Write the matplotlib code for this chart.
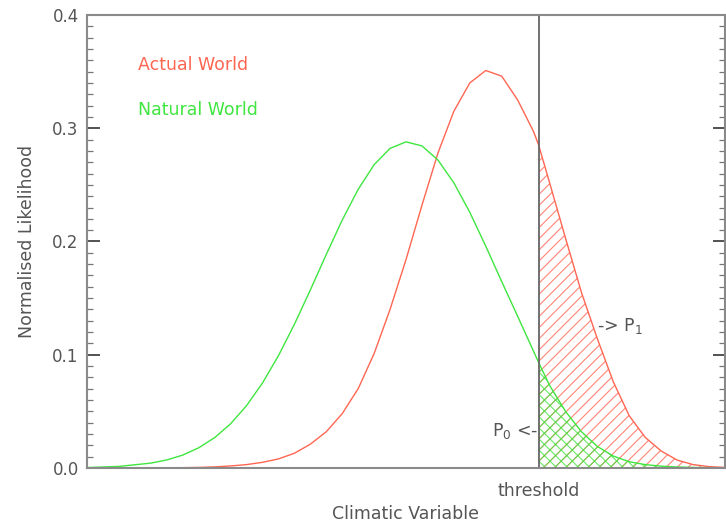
import numpy as np
import matplotlib
matplotlib.use("Agg")
import matplotlib.pyplot as plt
from matplotlib.ticker import MultipleLocator

# values (x is in arbitrary climatic units 0..10)
x = [0.0, 0.5, 1.0, 1.25, 1.5, 1.75, 2.0, 2.25, 2.5, 2.75, 3.0, 3.25, 3.5, 3.75,
     4.0, 4.25, 4.5, 4.75, 5.0, 5.25, 5.5, 5.75, 6.0, 6.25, 6.5, 6.75, 7.0, 7.08,
     7.25, 7.5, 7.75, 8.0, 8.25, 8.5, 8.75, 9.0, 9.25, 9.5, 9.75, 10.0]
natural = [0.0004, 0.0014, 0.0043, 0.0071, 0.0114, 0.0178, 0.0268, 0.0390, 0.0550,
           0.0750, 0.0991, 0.1268, 0.1571, 0.1885, 0.2189, 0.2460, 0.2678, 0.2822,
           0.2880, 0.2844, 0.2720, 0.2518, 0.2258, 0.1959, 0.1646, 0.1340, 0.1030,
           0.0930, 0.0730, 0.0500, 0.0320, 0.0190, 0.0105, 0.0055, 0.0030, 0.0016,
           0.0009, 0.0005, 0.0003, 0.0002]
actual = [0.0, 0.0, 0.0001, 0.0002, 0.0003, 0.0005, 0.0010, 0.0018, 0.0030, 0.0050,
          0.0080, 0.0130, 0.0210, 0.0320, 0.0480, 0.0700, 0.1010, 0.1400, 0.1840,
          0.2320, 0.2780, 0.3150, 0.3400, 0.3510, 0.3460, 0.3250, 0.2970, 0.2850,
          0.2520, 0.2030, 0.1550, 0.1140, 0.0760, 0.0460, 0.0270, 0.0150, 0.0070,
          0.0030, 0.0012, 0.0005]
threshold = 7.08

RED = "#ff6652"
GREEN = "#3fe63f"
GREY = "#555555"

xs = np.array(x)
nat = np.array(natural)
act = np.array(actual)
right = xs >= threshold

plt.rcParams["hatch.linewidth"] = 0.8

fig = plt.figure(figsize=(7.26, 5.27), dpi=100)
ax = fig.add_axes([87 / 726, 1 - 468 / 527, 638 / 726, 453 / 527])

ax.fill_between(xs[right], 0, act[right], facecolor="none", edgecolor=RED,
                hatch="///", linewidth=0, alpha=0.8)
ax.fill_between(xs[right], 0, nat[right], facecolor="none", edgecolor=GREEN,
                hatch="xxx", linewidth=0, alpha=0.8)
ax.plot(xs, act, color=RED, lw=1.0)
ax.plot(xs, nat, color=GREEN, lw=1.0)
ax.axvline(threshold, color="#666666", lw=1.3)

ax.set_xlim(0, 10)
ax.set_ylim(0, 0.4)

for s in ax.spines.values():
    s.set_color("#8a8a8a")
    s.set_linewidth(1.5)

ax.yaxis.set_major_locator(MultipleLocator(0.1))
ax.yaxis.set_minor_locator(MultipleLocator(0.01))
ax.yaxis.set_major_formatter(matplotlib.ticker.FormatStrFormatter("%.1f"))
ax.tick_params(axis="y", which="major", direction="in", length=9, width=1.3,
               color="#444444", left=True, right=True, labelsize=12,
               labelcolor=GREY, pad=6)
ax.tick_params(axis="y", which="minor", direction="in", length=4, width=0.9,
               color="#777777", left=True, right=True)
ax.set_xticks([threshold])
ax.set_xticklabels(["threshold"])
ax.tick_params(axis="x", length=0, labelsize=12.5, labelcolor=GREY, pad=10)

ax.set_xlabel("Climatic Variable", fontsize=12.5, color=GREY, labelpad=4)
ax.set_ylabel("Normalised Likelihood", fontsize=12.5, color=GREY, labelpad=12)

ax.text(0.08, 0.89, "Actual World", transform=ax.transAxes, color=RED,
        fontsize=12.5, va="center")
ax.text(0.08, 0.79, "Natural World", transform=ax.transAxes, color=GREEN,
        fontsize=12.5, va="center")
ax.text(8.0, 0.125, "-> P$_1$", color=GREY, fontsize=12.5, va="center")
ax.text(threshold, 0.033, "P$_0$ <-", color=GREY, fontsize=12.5, va="center",
        ha="right")

fig.savefig("out.png", dpi=100)
